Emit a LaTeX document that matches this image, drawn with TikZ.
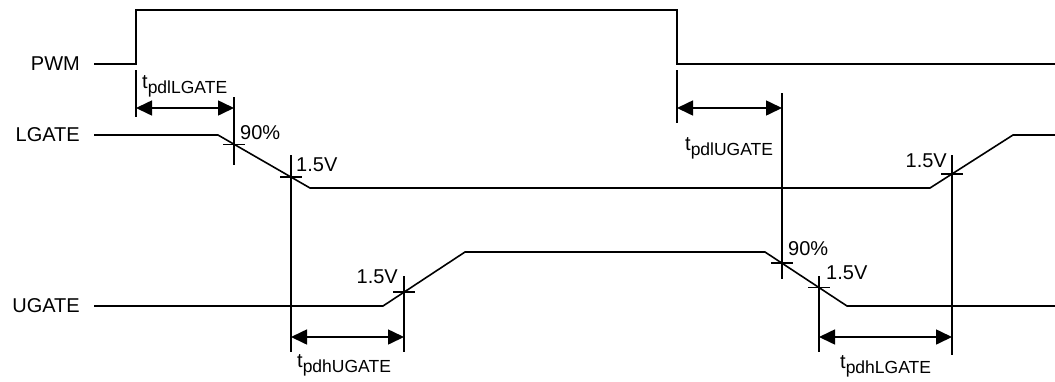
\documentclass[tikz,border=0pt]{standalone}
\usepackage{fontspec}
\setmainfont{Liberation Sans}
\usetikzlibrary{arrows.meta}
\newcommand{\tpd}[1]{t\raisebox{-5pt}{\fontsize{17.5}{18}\selectfont #1}}
\tikzset{
  wave/.style={line width=1.6pt, line join=miter},
  tickline/.style={line width=1.3pt},
  dim/.style={line width=1.6pt, {Triangle[length=16pt,width=15pt]}-{Triangle[length=16pt,width=15pt]}},
  lbl/.style={inner sep=0pt, font=\fontsize{20}{24}\selectfont},
}
\begin{document}
\begin{tikzpicture}[x=1pt,y=-1pt]
  \useasboundingbox (0,0) rectangle (1055,381);
  % signal names
  \node[lbl, anchor=east] (pwm) at (80,64) {PWM};
  \node[lbl, anchor=east] (lgate) at (80,135) {LGATE};
  \node[lbl, anchor=east] (ugate) at (80,306) {UGATE};
  % waveforms
  \draw[wave] (94,64) -- (136,64) -- (136,10) -- (677,10) -- (677,64) -- (1055,64);
  \draw[wave] (94,135) -- (218,135) -- (310,188) -- (930,188) -- (1013,135) -- (1055,135);
  \draw[wave] (94,306) -- (383,306) -- (465,252) -- (765,252) -- (847,306) -- (1055,306);
  % crossing points
  \coordinate (lg90) at (234,144.2);
  \coordinate (lgoff) at (291,177);
  \coordinate (ugon) at (404,292);
  \coordinate (ug90) at (782,263);
  \coordinate (ugoff) at (819,287.6);
  \coordinate (lgon) at (952,174);
  \foreach \p in {lg90,lgoff,ugon,ug90,ugoff,lgon}
    \draw[tickline] ([xshift=-11pt]\p) -- ([xshift=11pt]\p);
  % reference lines
  \coordinate (pwmup) at (136,70);
  \coordinate (pwmdn) at (677,70);
  \draw[tickline] (pwmup) -- +(0,47);
  \draw[tickline] (pwmdn) -- +(0,53);
  \draw[tickline] (lg90 |- 0,97) -- (lg90 |- 0,165);
  \draw[tickline] (lgoff |- 0,155) -- (lgoff |- 0,352);
  \draw[tickline] (ugon |- 0,276) -- (ugon |- 0,352);
  \draw[tickline] (ug90 |- 0,93) -- (ug90 |- 0,279);
  \draw[tickline] (ugoff |- 0,276) -- (ugoff |- 0,352);
  \draw[tickline] (lgon |- 0,155) -- (lgon |- 0,355);
  % delays
  \draw[dim] (pwmup |- 0,108) -- (lg90 |- 0,108);
  \draw[dim] (pwmdn |- 0,108) -- (ug90 |- 0,108);
  \draw[dim] (lgoff |- 0,337) -- (ugon |- 0,337);
  \draw[dim] (ugoff |- 0,337) -- (lgon |- 0,337);
  % levels
  \node[lbl, anchor=base west] (l90) at (240,139) {90\%};
  \node[lbl, anchor=base west] (l15a) at (296,171) {1.5V};
  \node[lbl, anchor=base east] (l15b) at (398,283) {1.5V};
  \node[lbl, anchor=base west] (u90) at (788,255) {90\%};
  \node[lbl, anchor=base west] (u15a) at (826,279) {1.5V};
  \node[lbl, anchor=base east] (u15b) at (947,167) {1.5V};
  % delay names
  \node[lbl, anchor=base west] (tdl) at (142,88) {\tpd{pdlLGATE}};
  \node[lbl, anchor=base west] (tdu) at (685,150) {\tpd{pdlUGATE}};
  \node[lbl, anchor=base west] (thu) at (297,367) {\tpd{pdhUGATE}};
  \node[lbl, anchor=base west] (thl) at (840,368) {\tpd{pdhLGATE}};
\end{tikzpicture}
\end{document}
